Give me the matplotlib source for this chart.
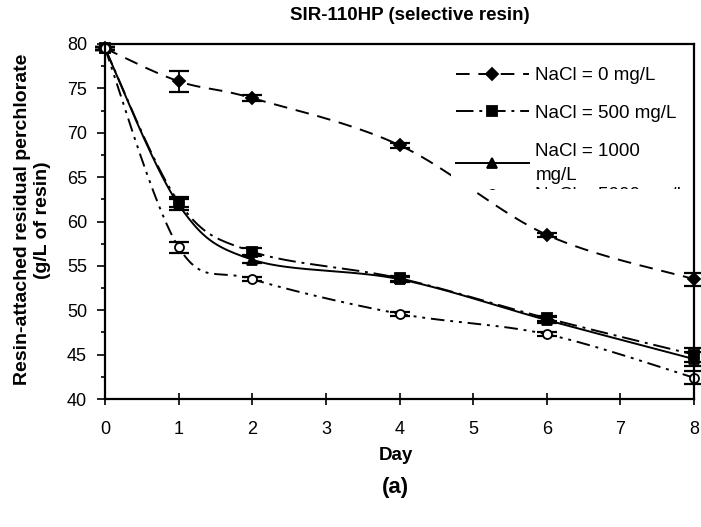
import numpy as np
import matplotlib
matplotlib.use("Agg")
from matplotlib import pyplot
from matplotlib.transforms import Bbox, TransformedBbox
from matplotlib.ticker import MultipleLocator

# data
days = np.array([0, 1, 2, 4, 6, 8])
nacl_0 = np.array([79.5, 75.8, 73.9, 68.6, 58.5, 53.5])
nacl_500 = np.array([79.5, 62.2, 56.6, 53.6, 49.1, 45.0])
nacl_1000 = np.array([79.5, 61.9, 55.7, 53.5, 48.9, 44.5])
nacl_5000 = np.array([79.5, 57.1, 53.5, 49.6, 47.3, 42.4])
err_0 = np.array([0.2, 1.2, 0.3, 0.3, 0.2, 0.75])
err_500 = np.array([0.2, 0.6, 0.4, 0.3, 0.3, 0.8])
err_1000 = np.array([0.2, 0.6, 0.4, 0.3, 0.3, 0.8])
err_5000 = np.array([0.2, 0.6, 0.2, 0.2, 0.2, 0.7])
labels = ["NaCl = 0 mg/L", "NaCl = 500 mg/L", "NaCl = 1000\nmg/L", "NaCl = 5000 mg/L"]

pyplot.rcParams['font.family'] = ['Liberation Sans', 'DejaVu Sans']

fig = pyplot.figure(figsize=(7.01, 5.27), dpi=100)
ax = fig.add_axes([105/701, 128/527, 589/701, 355/527])

# pixels per data unit, so the smoothing is done in screen space like excel
sx = 589/8.
sy = 355/40.

def smooth(xs, ys, n=40):
	P = np.column_stack([xs*sx, ys*sy])
	P = np.vstack([P[0], P, P[-1]])
	out = []
	t = np.linspace(0, 1, n)[:, None]
	for i in range(1, len(P)-2):
		p0, p1, p2, p3 = P[i-1], P[i], P[i+1], P[i+2]
		c1 = p1 + (p2-p0)/6.
		c2 = p2 - (p3-p1)/6.
		seg = (1-t)**3*p1 + 3*(1-t)**2*t*c1 + 3*(1-t)*t**2*c2 + t**3*p2
		out.append(seg)
	out = np.vstack(out)
	return out[:, 0]/sx, out[:, 1]/sy

styles = [
	(nacl_0, err_0, (0, (7, 4.5)), 'D', 'k', 6),
	(nacl_500, err_500, (0, (9, 3, 1.5, 3)), 's', 'k', 7),
	(nacl_1000, err_1000, '-', '^', 'k', 7),
	(nacl_5000, err_5000, (0, (7, 3, 1.5, 3, 1.5, 3)), 'o', 'w', 6.5),
]

handles = []
for (vals, err, ls, mk, fc, ms), lab in zip(styles, labels):
	xs, ys = smooth(days, vals)
	ax.plot(xs, ys, color='k', linestyle=ls, linewidth=1.4, clip_on=False)
	ax.errorbar(days, vals, yerr=err, fmt='none', ecolor='k', elinewidth=1.3,
				capsize=7, capthick=1.6, clip_on=False)
	ax.plot(days, vals, linestyle='none', marker=mk, markersize=ms,
			markerfacecolor=fc, markeredgecolor='k', markeredgewidth=1.3, clip_on=False)
	# legend proxy
	h, = ax.plot([], [], color='k', linestyle=ls, linewidth=1.4, marker=mk, markersize=ms,
			markerfacecolor=fc, markeredgecolor='k', markeredgewidth=1.3, label=lab)
	handles.append(h)

ax.set_xlim(0, 8)
ax.set_ylim(40, 80)
ax.xaxis.set_major_locator(MultipleLocator(1))
ax.yaxis.set_major_locator(MultipleLocator(5))
ax.yaxis.set_minor_locator(MultipleLocator(2.5))
ax.tick_params(axis='x', direction='inout', length=9, width=1.2, labelsize=13, pad=11)
ax.tick_params(axis='y', which='major', direction='out', length=6, width=1.2, labelsize=13, pad=7)
ax.tick_params(axis='y', which='minor', direction='out', length=3, width=1.2)
for sp in ax.spines.values():
	sp.set_linewidth(1.6)

ax.set_xlabel("Day", fontsize=13.5, fontweight='bold')
ax.xaxis.set_label_coords(0.493, -0.135)
ax.set_ylabel("Resin-attached residual perchlorate\n(g/L of resin)", fontsize=14,
			  fontweight='bold')
ax.yaxis.set_label_coords(-0.092, 0.505)
fig.text(410/701, 1-15/527, "SIR-110HP (selective resin)", fontsize=13.5,
		 fontweight='bold', ha='center', va='center')
fig.text(395/701, 1-487/527, "(a)", fontsize=16, fontweight='bold', ha='center', va='center')

# excel squeezed the legend box, so the last entry is cut off at the bottom
legkw = dict(fontsize=13.5, handlelength=3.85, handletextpad=0.37,
			 borderpad=0.3, fancybox=False, loc='upper left')
clip = TransformedBbox(Bbox.from_extents(0.56, 0.592, 0.995, 0.995), ax.transAxes)

leg1 = ax.legend(handles[:3], labels[:3], bbox_to_anchor=(0.571, 0.977),
				 labelspacing=1.1, frameon=True, **legkw)
leg1.get_texts()[2].set_linespacing(1.55)
leg1.get_frame().set_facecolor('white')
leg1.get_frame().set_edgecolor('none')
leg1.get_frame().set_alpha(1)
ax.add_artist(leg1)
leg2 = ax.legend(handles[3:], labels[3:], bbox_to_anchor=(0.571, 0.639),
				 frameon=False, **legkw)

for leg in (leg1, leg2):
	for a in leg.findobj():
		a.set_clip_on(True)
		a.set_clip_box(clip)

pyplot.savefig("out.png", dpi=100)
